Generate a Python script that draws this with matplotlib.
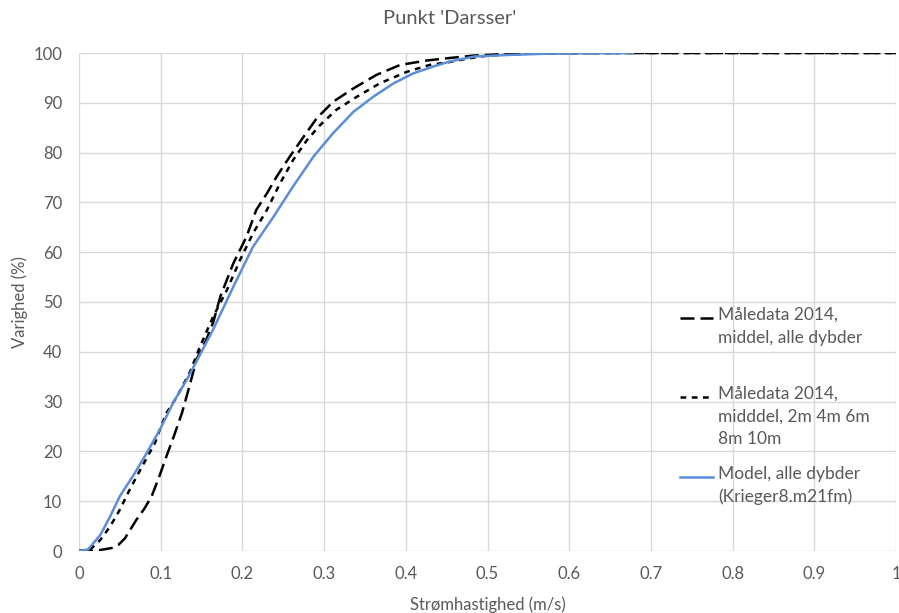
import matplotlib
matplotlib.use("Agg")
import matplotlib.pyplot as plt
from matplotlib.lines import Line2D

# ---- data ----
x_alle = [0, 0.013, 0.026, 0.04, 0.048, 0.056, 0.07, 0.08, 0.089, 0.099, 0.107, 0.116,
          0.126, 0.134, 0.144, 0.156, 0.164, 0.173, 0.189, 0.205, 0.217, 0.23, 0.242,
          0.258, 0.275, 0.291, 0.311, 0.336, 0.364, 0.393, 0.426, 0.454, 0.484, 0.524,
          0.58, 0.65, 1.0]
y_alle = [0, 0, 0.2, 0.6, 1.2, 2.5, 6.2, 8.5, 11, 15.3, 19, 23, 27.7, 32.4, 38.5, 42.5,
          45.8, 51.1, 57.8, 63.1, 68.5, 71.8, 75.2, 79.2, 83.2, 86.9, 90.2, 92.9, 95.6,
          97.6, 98.5, 99.0, 99.5, 99.8, 99.95, 100, 100]

x_dyb = [0, 0.013, 0.026, 0.038, 0.05, 0.062, 0.075, 0.093, 0.099, 0.107, 0.12, 0.136,
         0.148, 0.164, 0.181, 0.197, 0.213, 0.23, 0.246, 0.262, 0.279, 0.295, 0.315,
         0.34, 0.368, 0.401, 0.429, 0.454, 0.476, 0.501, 0.55, 0.62, 1.0]
y_dyb = [0, 0.2, 2.2, 4.9, 8.3, 12.3, 16.3, 21.7, 24.4, 27.7, 31, 36, 41, 47, 52.4, 58.4,
         63.8, 68.5, 73.8, 78.5, 82.5, 85.5, 88.6, 91.2, 93.9, 96.2, 97.6, 98.2, 98.9,
         99.5, 99.85, 100, 100]

x_model = [0, 0.011, 0.026, 0.038, 0.05, 0.067, 0.083, 0.1, 0.116, 0.132, 0.148, 0.164,
           0.189, 0.213, 0.238, 0.262, 0.287, 0.311, 0.336, 0.36, 0.385, 0.409, 0.434,
           0.454, 0.484, 0.524, 0.58, 0.678]
y_model = [0, 0.3, 3.2, 6.9, 11, 15.3, 19.7, 24.7, 30, 34.4, 39.4, 44.4, 53.1, 61.1,
           67.1, 73.2, 79.2, 83.9, 88.2, 91.2, 93.9, 95.9, 97.3, 98.3, 99.3, 99.6, 99.9, 100]

labels = ["Måledata 2014,\nmiddel, alle dybder",
          "Måledata 2014,\nmidddel, 2m 4m 6m\n8m 10m",
          "Model, alle dybder\n(Krieger8.m21fm)"]
x_ticks = [0, 0.1, 0.2, 0.3, 0.4, 0.5, 0.6, 0.7, 0.8, 0.9, 1]
x_ticklabels = ["0", "0.1", "0.2", "0.3", "0.4", "0.5", "0.6", "0.7", "0.8", "0.9", "1"]
y_ticks = [0, 10, 20, 30, 40, 50, 60, 70, 80, 90, 100]

# ---- style ----
plt.rcParams['font.family'] = ['Lato', 'DejaVu Sans']
gray = '#595959'
blue = '#5B8ED6'
LW = 1.8
long_dash = (5.6, 2.4)
short_dash = (2.3, 2.2)

W, H = 899, 613
fig = plt.figure(figsize=(W / 100, H / 100), dpi=100)
ax = fig.add_axes([79 / W, 1 - 551 / H, (896 - 79) / W, (551 - 53) / H])

ax.plot(x_alle, y_alle, color='black', lw=LW, dashes=long_dash)
ax.plot(x_dyb, y_dyb, color='black', lw=LW, dashes=short_dash)
ax.plot(x_model, y_model, color=blue, lw=LW)

ax.set_xlim(0, 1)
ax.set_ylim(0, 100)
ax.set_xticks(x_ticks)
ax.set_xticklabels(x_ticklabels)
ax.set_yticks(y_ticks)
ax.grid(True, color='#d9d9d9', lw=1)
ax.set_axisbelow(True)
for s in ax.spines.values():
    s.set_visible(False)
ax.tick_params(axis='both', length=0, colors=gray, labelsize=12)
ax.tick_params(axis='x', pad=11)
ax.tick_params(axis='y', pad=12)
ax.set_xlabel("Strømhastighed (m/s)", color=gray, fontsize=12, labelpad=10)
ax.set_ylabel("Varighed (%)", color=gray, fontsize=12, labelpad=4)
fig.text(0.5, 1 - 18 / H, "Punkt 'Darsser'", ha='center', va='center', color=gray, fontsize=14.5)

# ---- legend (manual, handles aligned to first line) ----
styles = [dict(color='black', lw=LW, dashes=long_dash),
          dict(color='black', lw=LW, dashes=short_dash),
          dict(color=blue, lw=LW)]
tops = [318, 397, 477]
for lab, st, ty in zip(labels, styles, tops):
    yf = 1 - ty / H
    fig.add_artist(Line2D([680 / W, 713 / W], [yf, yf], transform=fig.transFigure, **st))
    fig.text(718 / W, yf + 11 / H, lab, ha='left', va='top', color=gray,
             fontsize=12.5, linespacing=1.5)

fig.savefig("out.png", dpi=100)
